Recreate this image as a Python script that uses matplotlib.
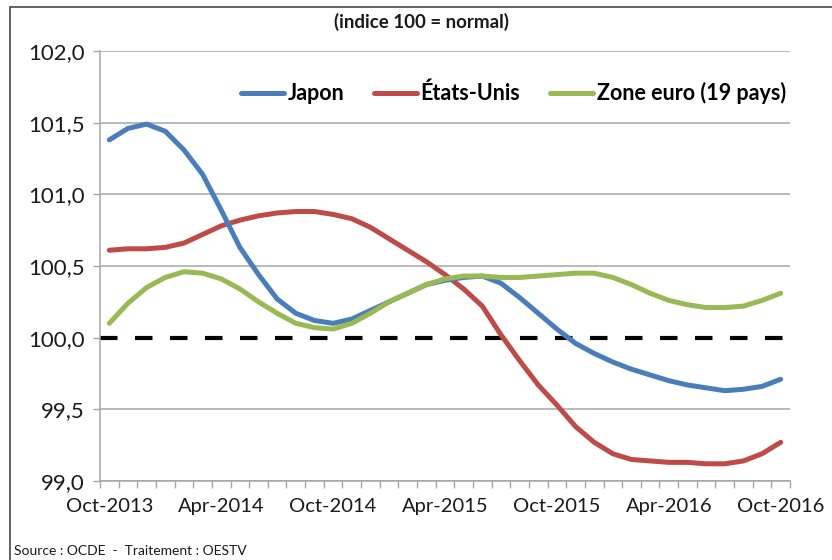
import matplotlib
matplotlib.use("Agg")
import matplotlib.pyplot as plt
from matplotlib.patches import Rectangle
from matplotlib.ticker import FixedLocator, FuncFormatter

plt.rcParams['font.family'] = ['Lato', 'DejaVu Sans']

months = ["Oct-2013", "Nov-2013", "Dec-2013", "Jan-2014", "Feb-2014", "Mar-2014",
          "Apr-2014", "May-2014", "Jun-2014", "Jul-2014", "Aug-2014", "Sep-2014",
          "Oct-2014", "Nov-2014", "Dec-2014", "Jan-2015", "Feb-2015", "Mar-2015",
          "Apr-2015", "May-2015", "Jun-2015", "Jul-2015", "Aug-2015", "Sep-2015",
          "Oct-2015", "Nov-2015", "Dec-2015", "Jan-2016", "Feb-2016", "Mar-2016",
          "Apr-2016", "May-2016", "Jun-2016", "Jul-2016", "Aug-2016", "Sep-2016",
          "Oct-2016"]

japon = [101.38, 101.46, 101.49, 101.44, 101.31, 101.14, 100.89, 100.63, 100.44,
         100.27, 100.17, 100.12, 100.10, 100.13, 100.19, 100.25, 100.31, 100.37,
         100.40, 100.42, 100.43, 100.38, 100.28, 100.17, 100.06, 99.96, 99.89,
         99.83, 99.78, 99.74, 99.70, 99.67, 99.65, 99.63, 99.64, 99.66, 99.71]

etats_unis = [100.61, 100.62, 100.62, 100.63, 100.66, 100.72, 100.78, 100.82, 100.85,
              100.87, 100.88, 100.88, 100.86, 100.83, 100.77, 100.69, 100.61, 100.53,
              100.44, 100.34, 100.22, 100.02, 99.84, 99.67, 99.53, 99.38, 99.27,
              99.19, 99.15, 99.14, 99.13, 99.13, 99.12, 99.12, 99.14, 99.19, 99.27]

zone_euro = [100.10, 100.24, 100.35, 100.42, 100.46, 100.45, 100.41, 100.34, 100.25,
             100.17, 100.10, 100.07, 100.06, 100.10, 100.17, 100.25, 100.31, 100.37,
             100.41, 100.43, 100.43, 100.42, 100.42, 100.43, 100.44, 100.45, 100.45,
             100.42, 100.37, 100.31, 100.26, 100.23, 100.21, 100.21, 100.22, 100.26,
             100.31]

normal = 100.0
y_ticks = [99.0, 99.5, 100.0, 100.5, 101.0, 101.5, 102.0]
label_step = 6

W, H = 832, 560
fig = plt.figure(figsize=(W / 100, H / 100), dpi=100)
fig.patch.set_facecolor('white')

# outer chart frame
fig.add_artist(Rectangle((10 / W, -0.05), 1.1, (H - 7) / H + 0.05,
                         transform=fig.transFigure, fill=False,
                         edgecolor='#555555', linewidth=1.3))

ax = fig.add_axes([100 / W, (H - 481) / H, 690 / W, 430 / H])
x = list(range(len(months)))

grid_c = '#a6a6a6'
for v in y_ticks:
    if v != normal:
        ax.axhline(v, color=grid_c, linewidth=1.1, zorder=1)

ax.axhline(normal, color='black', linewidth=3.0, linestyle=(0, (4.2, 4.2)), zorder=2)

ax.plot(x, japon, color='#4a7ebb', linewidth=3.6, label='Japon', zorder=5,
        solid_capstyle='round')
ax.plot(x, etats_unis, color='#be4b48', linewidth=3.6, label='États-Unis', zorder=4,
        solid_capstyle='round')
ax.plot(x, zone_euro, color='#98b954', linewidth=3.6, label='Zone euro (19 pays)',
        zorder=6, solid_capstyle='round')

ax.set_xlim(-0.5, len(months) - 0.5)
ax.set_ylim(99.0, 102.0)

ax.yaxis.set_major_locator(FixedLocator(y_ticks))
ax.yaxis.set_major_formatter(FuncFormatter(lambda v, p: f"{v:.1f}".replace('.', ',')))
ax.tick_params(axis='y', direction='out', length=5, width=1, color=grid_c,
               labelsize=16, pad=6, labelcolor='#1a1a1a')

ax.set_xticks(x[::label_step])
ax.set_xticklabels(months[::label_step])
ax.set_xticks([i - 0.5 for i in range(len(months) + 1)], minor=True)
ax.tick_params(axis='x', which='major', length=0, labelsize=14.5, pad=12,
               labelcolor='#1a1a1a')
ax.tick_params(axis='x', which='minor', direction='out', length=5, width=1,
               color=grid_c)

for s in ['top', 'right']:
    ax.spines[s].set_visible(False)
for s in ['left', 'bottom']:
    ax.spines[s].set_color(grid_c)
    ax.spines[s].set_linewidth(1.1)

leg = ax.legend(loc='center right', bbox_to_anchor=(1.022, 0.902), ncol=3,
                frameon=False, handlelength=2.0, handletextpad=0.15,
                columnspacing=1.4, prop={'weight': 'bold', 'size': 15.5})

fig.text(422 / W, 1 - 22 / H, "(indice 100 = normal)", ha='center', va='center',
         fontsize=13.5, fontweight='bold', color='#1a1a1a')
fig.text(14 / W, 1 - 551 / H, "Source : OCDE  -  Traitement : OESTV", ha='left',
         va='center', fontsize=10, color='#1a1a1a')

fig.savefig('out.png', dpi=100)
